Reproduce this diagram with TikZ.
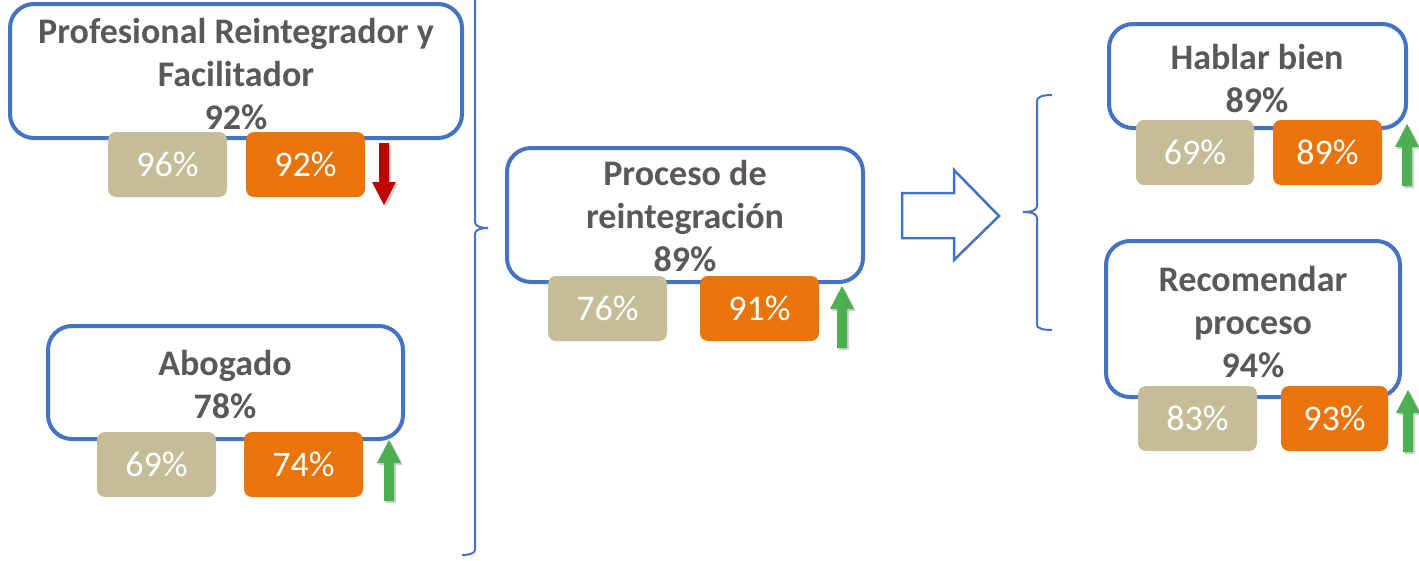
\documentclass[tikz,border=0pt]{standalone}
\usepackage{fontspec}
\setmainfont{Carlito}
\definecolor{bblue}{HTML}{4472C4}
\definecolor{tan}{HTML}{C4BD97}
\definecolor{orng}{HTML}{E8740A}
\definecolor{txtgray}{HTML}{595959}
\definecolor{redarr}{HTML}{C00000}
\definecolor{greenarr}{HTML}{4CAF50}
\newcommand\myuparrow[4]{% cx, tip, bottom, color
  \fill[black!18] ({#1-5+2},{#3+2}) -- ({#1+5+2},{#3+2}) -- ({#1+5+2},{#2+23+2}) -- ({#1+12+2},{#2+23+2}) -- ({#1+2},{#2+2}) -- ({#1-12+2},{#2+23+2}) -- ({#1-5+2},{#2+23+2}) -- cycle;
  \fill[#4] ({#1-5},{#3}) -- ({#1+5},{#3}) -- ({#1+5},{#2+23}) -- ({#1+12},{#2+23}) -- ({#1},{#2}) -- ({#1-12},{#2+23}) -- ({#1-5},{#2+23}) -- cycle;}
\newcommand\mydownarrow[4]{% cx, top, tip, color
  \fill[black!18] ({#1-5+2},{#2+2}) -- ({#1+5+2},{#2+2}) -- ({#1+5+2},{#3-23+2}) -- ({#1+12+2},{#3-23+2}) -- ({#1+2},{#3+2}) -- ({#1-12+2},{#3-23+2}) -- ({#1-5+2},{#3-23+2}) -- cycle;
  \fill[#4] ({#1-5},{#2}) -- ({#1+5},{#2}) -- ({#1+5},{#3-23}) -- ({#1+12},{#3-23}) -- ({#1},{#3}) -- ({#1-12},{#3-23}) -- ({#1-5},{#3-23}) -- cycle;}
\tikzset{
  bigbox/.style={draw=bblue, line width=4pt, rounded corners=24pt, fill=white},
  smallbox/.style={rounded corners=8pt, text=white, font=\fontsize{36}{40}\selectfont, inner sep=0pt},
  tanbox/.style={smallbox, fill=tan},
  orbox/.style={smallbox, fill=orng},
  label/.style={text=txtgray, font=\fontsize{36}{43}\selectfont\bfseries, align=center, inner sep=0pt},
  bracketline/.style={draw=bblue, line width=2pt},
}
\begin{document}
\begin{tikzpicture}[x=1pt,y=-1pt]
\useasboundingbox (0,0) rectangle (1419,560);
% big boxes
\draw[bigbox] (10,4) rectangle (462,138);
\draw[bigbox] (48,326) rectangle (403,439);
\draw[bigbox] (507,148) rectangle (863,282);
\draw[bigbox] (1109,24) rectangle (1406,128);
\draw[bigbox] (1106,241) rectangle (1400,397);
% small boxes
\path[tanbox] (108,132) rectangle (227,197) node[midway] (p1) {96\%};
\path[orbox] (246,132) rectangle (365,197) node[midway] (p2) {92\%};
\path[tanbox] (97,432) rectangle (216,497) node[midway] (a1) {69\%};
\path[orbox] (244,432) rectangle (363,497) node[midway] (a2) {74\%};
\path[tanbox] (548,276) rectangle (667,341) node[midway] (r1) {76\%};
\path[orbox] (700,276) rectangle (819,341) node[midway] (r2) {91\%};
\path[tanbox] (1136,120) rectangle (1254,185) node[midway] (h1) {69\%};
\path[orbox] (1273,120) rectangle (1382,185) node[midway] (h2) {89\%};
\path[tanbox] (1138,386) rectangle (1257,451) node[midway] (c1) {83\%};
\path[orbox] (1281,386) rectangle (1388,451) node[midway] (c2) {93\%};
% labels
\node[label] (tp) at (236,74) {Profesional Reintegrador y\\Facilitador\\92\%};
\node[label] (ta) at (225,385) {Abogado\\78\%};
\node[label] (tr) at (685,216) {Proceso de\\reintegración\\89\%};
\node[label] (th) at (1257,79) {Hablar bien\\89\%};
\node[label] (tc) at (1253,322) {Recomendar\\proceso\\94\%};
% trend arrows
\mydownarrow{384}{143}{205}{redarr}
\myuparrow{389}{440}{501}{greenarr}
\myuparrow{842}{286}{348}{greenarr}
\myuparrow{1407}{124}{186}{greenarr}
\myuparrow{1408}{390}{452}{greenarr}
% left brace
\draw[bracketline] (475,0) -- (475,222) .. controls (475,226) and (480,228) .. (488,228)
  .. controls (480,228) and (475,230) .. (475,234) -- (475,550) .. controls (475,553) and (470,555) .. (462,555);
% hollow arrow
\draw[bblue, line width=2.5pt, line join=miter] (902,193) -- (954,193) -- (954,170) -- (999,216) -- (954,260) -- (954,238) -- (902,238) -- cycle;
% right brace
\draw[bracketline] (1052,95) .. controls (1042,95) and (1037,97) .. (1037,101) -- (1037,206)
  .. controls (1037,210) and (1032,212) .. (1023,212)
  .. controls (1032,212) and (1037,214) .. (1037,218) -- (1037,325) .. controls (1037,328) and (1042,330) .. (1052,330);
\end{tikzpicture}
\end{document}
